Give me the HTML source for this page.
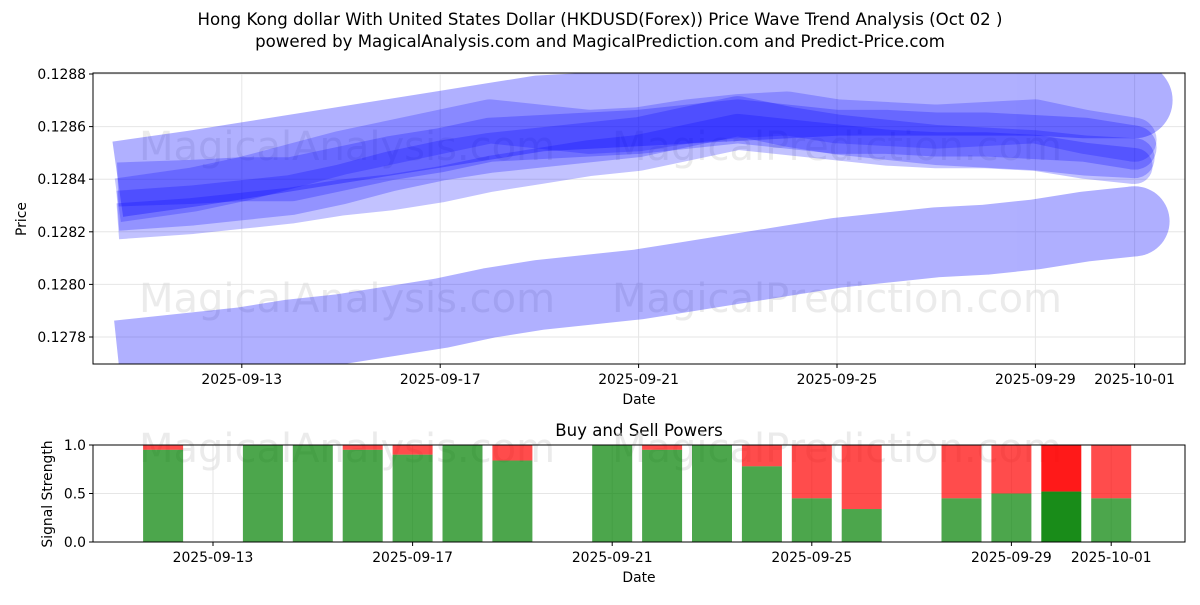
<!DOCTYPE html>
<html><head><meta charset="utf-8">
<style>
body{margin:0;background:#fff;font-family:"Liberation Sans","DejaVu Sans",sans-serif;}
svg text{font-family:"DejaVu Sans","Liberation Sans",sans-serif;}
</style></head>
<body>
<svg id="chart" width="1200" height="600" xmlns="http://www.w3.org/2000/svg">
<text x="600" y="25" text-anchor="middle" font-size="16.6">Hong Kong dollar With United States Dollar (HKDUSD(Forex)) Price Wave Trend Analysis (Oct 02 )</text>
<text x="600" y="47" text-anchor="middle" font-size="16.6">powered by MagicalAnalysis.com and MagicalPrediction.com and Predict-Price.com</text>
<g id="top"></g>
<g id="bot"></g>
</svg>
<script>
// day index: 0 = 2025-09-10
const bandDays = [0.5,2,3,4,5,6,7,8,9,10,11,12,13,14,15,16,17,18,19,20,21];
const bandA = [0.12840,0.12844,0.12847,0.12850,0.12853,0.12856,0.12859,0.12862,0.12865,0.12866,0.12867,0.12868,0.12869,0.12870,0.12871,0.12871,0.12871,0.12871,0.12871,0.12870,0.12870];
const bandB = [0.12773,0.12776,0.12778,0.12781,0.12783,0.12786,0.12789,0.12793,0.12796,0.12798,0.12800,0.12803,0.12806,0.12809,0.12812,0.12814,0.12816,0.12817,0.12819,0.12822,0.12824];
const bandM1 = [0.12838,0.12839,0.12840,0.12840,0.12844,0.12848,0.12851,0.12855,0.12856,0.12857,0.12858,0.12860,0.12862,0.12860,0.12858,0.12858,0.12857,0.12857,0.12856,0.12855,0.12852];
const bandM2 = [0.12828,0.12830,0.12832,0.12834,0.12838,0.12843,0.12847,0.12850,0.12852,0.12854,0.12856,0.12860,0.12864,0.12860,0.12857,0.12855,0.12853,0.12852,0.12851,0.12849,0.12848];
const bandM3 = [0.12824,0.12826,0.12828,0.12830,0.12833,0.12835,0.12838,0.12842,0.12845,0.12848,0.12850,0.12854,0.12858,0.12856,0.12854,0.12852,0.12851,0.12851,0.12850,0.12847,0.12845];
const bandM4 = [0.12832,0.12836,0.12840,0.12845,0.12850,0.12854,0.12858,0.12862,0.12860,0.12858,0.12859,0.12862,0.12864,0.12865,0.12862,0.12861,0.12860,0.12861,0.12862,0.12858,0.12855];
const yTicks = [0.1278,0.1280,0.1282,0.1284,0.1286,0.1288];
const xTickDays = [3,7,11,15,19,21];
const xTickLabels = ["2025-09-13","2025-09-17","2025-09-21","2025-09-25","2025-09-29","2025-10-01"];
const barDays = [2,4,5,6,7,8,9,11,12,13,14,15,16,18,19,20,21];
const buyPower = [0.95,1.0,1.0,0.95,0.9,1.0,0.84,1.0,0.95,1.0,0.78,0.45,0.34,0.45,0.5,0.52,0.45];
const sigTicks = [0.0,0.5,1.0];

const NS="http://www.w3.org/2000/svg";
function mk(tag,attrs,parent,txt){const e=document.createElementNS(NS,tag);for(const k in attrs)e.setAttribute(k,attrs[k]);if(txt!==undefined)e.textContent=txt;parent.appendChild(e);return e;}
const topG=document.getElementById('top'), botG=document.getElementById('bot');
const T={l:93,r:1185,t:73,b:364};
const xT=d=>93+d*49.6;
const yT=p=>74+(0.1288-p)/0.001*263;
const B={l:93,r:1185,t:445,b:542};
const xB=d=>213+(d-3)*49.9;
const yB=v=>B.b-v*(B.b-B.t);
const FS=13.9;

const defs=mk('defs',{},topG);
const cp=mk('clipPath',{id:'cp'},defs);
mk('rect',{x:T.l,y:T.t,width:T.r-T.l,height:T.b-T.t},cp);
const cp2=mk('clipPath',{id:'cp2'},defs);
mk('rect',{x:B.l,y:B.t,width:B.r-B.l,height:B.b-B.t},cp2);

yTicks.forEach(v=>{const y=yT(v);
 const g=mk('line',{x1:T.l,x2:T.r,y1:y,y2:y,stroke:'#e6e6e6','stroke-width':1},topG);
 
 
 mk('line',{x1:T.l-4,x2:T.l,y1:y,y2:y,stroke:'#000'},topG);
 const t=mk('text',{x:T.l-7,y:y+5,'text-anchor':'end','font-size':FS},topG,v.toFixed(4));
 
 
});
xTickDays.forEach((d,i)=>{const x=xT(d);
 mk('line',{x1:x,x2:x,y1:T.t,y2:T.b,stroke:'#e6e6e6'},topG);
 mk('line',{x1:x,x2:x,y1:T.b,y2:T.b+4,stroke:'#000'},topG);
 const t=mk('text',{x:x,y:T.b+20,'text-anchor':'middle','font-size':FS},topG,xTickLabels[i]);
 
 
});
[[347,160],[837,160],[347,312],[837,312]].forEach((p,i)=>{
 const t=mk('text',{x:p[0],y:p[1],'text-anchor':'middle','font-size':40,fill:'#d8d8d8','fill-opacity':0.5},topG,i%2?'MagicalPrediction.com':'MagicalAnalysis.com');
 
 
});
const gBand=mk('g',{'clip-path':'url(#cp)'},topG);
function band(vals,w,op,name){
 const pts=vals.map((v,i)=>xT(bandDays[i])+','+yT(v)).join(' ');
 const g=mk('g',{opacity:op},gBand);
 
 
 mk('polyline',{points:pts,fill:'none',stroke:'#0000ff','stroke-width':w,'stroke-linejoin':'round'},g);
 const n=vals.length-1;
 mk('circle',{cx:xT(bandDays[n]),cy:yT(vals[n]),r:w/2,fill:'#0000ff'},g);
}
band(bandB,70,0.31,'wave-band-lower');
band(bandA,76,0.31,'wave-band-upper');
band(bandM1,44,0.24,'wave-band-1');
band(bandM2,40,0.24,'wave-band-2');
band(bandM3,36,0.24,'wave-band-3');
band(bandM4,44,0.22,'wave-band-4');
mk('rect',{x:T.l,y:T.t,width:T.r-T.l,height:T.b-T.t,fill:'none',stroke:'#000'},topG);
let tx=mk('text',{x:639,y:404,'text-anchor':'middle','font-size':FS},topG,'Date');


tx=mk('text',{x:26,y:219,'text-anchor':'middle','font-size':FS,transform:'rotate(-90 26 219)'},topG,'Price');



tx=mk('text',{x:639,y:436,'text-anchor':'middle','font-size':16.6},botG,'Buy and Sell Powers');


sigTicks.forEach(v=>{const y=yB(v);
 mk('line',{x1:B.l,x2:B.r,y1:y,y2:y,stroke:'#e6e6e6'},botG);
 mk('line',{x1:B.l-4,x2:B.l,y1:y,y2:y,stroke:'#000'},botG);
 const tt=mk('text',{x:B.l-7,y:y+5,'text-anchor':'end','font-size':FS},botG,v.toFixed(1));
 
 
});
xTickDays.forEach((d,i)=>{const x=xB(d);
 mk('line',{x1:x,x2:x,y1:B.t,y2:B.b,stroke:'#e6e6e6'},botG);
 mk('line',{x1:x,x2:x,y1:B.b,y2:B.b+4,stroke:'#000'},botG);
 const tt=mk('text',{x:x,y:B.b+20,'text-anchor':'middle','font-size':FS},botG,xTickLabels[i]);
 
 
});
[[347,462],[837,462]].forEach((p,i)=>{
 const tt=mk('text',{x:p[0],y:p[1],'text-anchor':'middle','font-size':40,fill:'#d8d8d8','fill-opacity':0.5},botG,i?'MagicalPrediction.com':'MagicalAnalysis.com');
 
 
});
const gbars=mk('g',{'clip-path':'url(#cp2)'},botG);
barDays.forEach((d,i)=>{const x=xB(d)-20, v=buyPower[i];
 const strong = v>0.5 && v<0.6;
 const s=mk('rect',{x:x,y:yB(1),width:40,height:yB(v)-yB(1),fill:'#ff0000','fill-opacity':strong?0.9:0.7},gbars);
 
 
 const b=mk('rect',{x:x,y:yB(v),width:40,height:yB(0)-yB(v),fill:'#008000','fill-opacity':strong?0.9:0.7},gbars);
 
 
});
mk('rect',{x:B.l,y:B.t,width:B.r-B.l,height:B.b-B.t,fill:'none',stroke:'#000'},botG);
tx=mk('text',{x:639,y:582,'text-anchor':'middle','font-size':FS},botG,'Date');


tx=mk('text',{x:52,y:494,'text-anchor':'middle','font-size':FS,transform:'rotate(-90 52 494)'},botG,'Signal Strength');


</script>
</body></html>
